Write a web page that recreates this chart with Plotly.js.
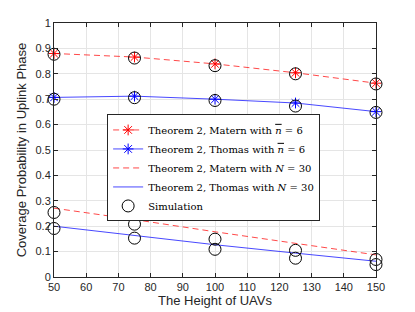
<!DOCTYPE html>
<html>
<head>
<meta charset="utf-8">
<script src="https://cdn.plot.ly/plotly-3.0.1.min.js"></script>
<style>html,body{margin:0;padding:0;background:#fff}#chart{width:415px;height:312px}</style>
</head>
<body>
<div id="chart"></div>
<script>
var heights = [50, 75, 100, 125, 150];
var maternN6 = [0.880, 0.866, 0.839, 0.804, 0.763];
var thomasN6 = [0.707, 0.712, 0.700, 0.685, 0.651];
var maternN30 = [0.271, 0.226, 0.178, 0.132, 0.087];
var thomasN30 = [0.200, 0.163, 0.127, 0.094, 0.062];
var simMaternN6 = [0.877, 0.862, 0.832, 0.800, 0.760];
var simThomasN6 = [0.700, 0.706, 0.695, 0.673, 0.648];
var simMaternN30 = [0.254, 0.208, 0.149, 0.105, 0.069];
var simThomasN30 = [0.191, 0.153, 0.109, 0.074, 0.049];
var xTicks = [50, 60, 70, 80, 90, 100, 110, 120, 130, 140, 150];
var yTicks = [0, 0.1, 0.2, 0.3, 0.4, 0.5, 0.6, 0.7, 0.8, 0.9, 1];

var simX = [], simY = [];
[simMaternN6, simThomasN6, simMaternN30, simThomasN30].forEach(function (s) {
  for (var i = 0; i < heights.length; i++) { simX.push(heights[i]); simY.push(s[i]); }
});

var nbar = '<span style="text-decoration:overline"><i>n</i></span>';
var red = 'rgba(255,40,40,0.85)';
var blue = 'rgba(40,40,255,0.85)';
var traces = [
  {x: heights, y: maternN6, mode: 'lines+markers', name: 'Theorem 2, Matern with ' + nbar + ' = 6', cliponaxis: false,
   line: {color: red, dash: '6px,4px', width: 1}, marker: {symbol: 'asterisk-open', size: 9, color: '#ff0000', line: {color: '#ff0000', width: 1}}},
  {x: heights, y: thomasN6, mode: 'lines+markers', name: 'Theorem 2, Thomas with ' + nbar + ' = 6', cliponaxis: false,
   line: {color: blue, width: 1}, marker: {symbol: 'asterisk-open', size: 9, color: '#0000ff', line: {color: '#0000ff', width: 1}}},
  {x: heights, y: maternN30, mode: 'lines', name: 'Theorem 2, Matern with <i>N</i> = 30',
   line: {color: red, dash: '6px,4px', width: 1}},
  {x: heights, y: thomasN30, mode: 'lines', name: 'Theorem 2, Thomas with <i>N</i> = 30',
   line: {color: blue, width: 1}},
  {x: simX, y: simY, mode: 'markers', name: 'Simulation', cliponaxis: false,
   marker: {symbol: 'circle-open', size: 12, color: '#000', line: {color: '#000', width: 1}}}
];

var sans = 'Liberation Sans';
var axisCommon = {
  showline: true, linecolor: '#262626', linewidth: 1, mirror: 'ticks',
  ticks: 'inside', ticklen: 4, tickcolor: '#262626',
  showgrid: true, gridcolor: '#e5e5e5', gridwidth: 1, zeroline: false,
  tickfont: {family: sans, size: 11, color: '#262626'}
};

var layout = {
  width: 415, height: 312,
  margin: {l: 54, r: 39, t: 23, b: 35},
  paper_bgcolor: '#fff', plot_bgcolor: '#fff',
  showlegend: true,
  xaxis: Object.assign({}, axisCommon, {
    range: [50, 150], tickvals: xTicks, ticktext: xTicks.map(String),
    title: {text: 'The Height of UAVs', standoff: 3, font: {family: sans, size: 13, color: '#262626'}}
  }),
  yaxis: Object.assign({}, axisCommon, {
    range: [0, 1], tickvals: yTicks, ticktext: yTicks.map(String),
    title: {text: 'Coverage Probability in Uplink Phase', standoff: 5, font: {family: sans, size: 13, color: '#262626'}}
  }),
  legend: {
    x: 0.165, y: 0.64, xanchor: 'left', yanchor: 'top',
    bgcolor: '#fff', bordercolor: '#262626', borderwidth: 1,
    font: {family: 'DejaVu Serif', size: 10, color: '#000'},
    tracegroupgap: 0
  }
};

Plotly.newPlot('chart', traces, layout, {displayModeBar: false, staticPlot: true});
</script>
</body>
</html>
